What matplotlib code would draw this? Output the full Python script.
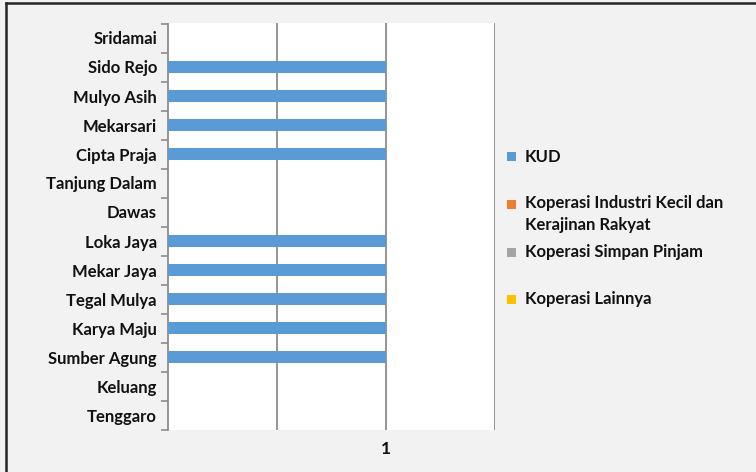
import matplotlib
matplotlib.use("Agg")
import matplotlib.pyplot as plt
from matplotlib.patches import Rectangle
from matplotlib.lines import Line2D
import numpy as np

categories = ["Sridamai", "Sido Rejo", "Mulyo Asih", "Mekarsari", "Cipta Praja",
              "Tanjung Dalam", "Dawas", "Loka Jaya", "Mekar Jaya", "Tegal Mulya",
              "Karya Maju", "Sumber Agung", "Keluang", "Tenggaro"]
series_names = ["KUD", "Koperasi Industri Kecil dan\nKerajinan Rakyat",
                "Koperasi Simpan Pinjam", "Koperasi Lainnya"]
kud = [0, 1, 1, 1, 1, 0, 0, 1, 1, 1, 1, 1, 0, 0]
kikkr = [0] * 14
ksp = [0] * 14
lainnya = [0] * 14
series_values = [kud, kikkr, ksp, lainnya]
colors = ["#5b9bd5", "#ed7d31", "#a5a5a5", "#ffc000"]
x_ticks = [0.5, 1, 1.5]
x_tick_labels = ["", "1", ""]

plt.rcParams['font.family'] = ['Lato', 'DejaVu Sans']
FS = 12
TXT = "#111111"
fig = plt.figure(figsize=(7.56, 4.72), dpi=100, facecolor="#f2f2f2")
ax = fig.add_axes([168/756, 1-429.5/472, (495-168)/756, (429.5-23.5)/472])
ax.set_facecolor("white")

n = len(categories)
y = np.arange(n)
for vals, col in zip(series_values, colors):
    v = np.array(vals, dtype=float)
    mask = v > 0
    ax.barh(y[mask], v[mask], height=0.4, color=col, zorder=3)

ax.set_ylim(n - 0.5, -0.5)
ax.set_xlim(0, 1.5)
ax.set_yticks(y)
ax.set_yticklabels(categories, fontsize=FS, fontweight="bold", color=TXT)
ax.set_yticks(np.arange(-0.5, n, 1), minor=True)
ax.tick_params(axis="y", which="major", length=0, pad=8)
ax.tick_params(axis="y", which="minor", length=5, width=1.2, color="#8c8c8c", direction="out")
ax.set_xticks(x_ticks)
ax.set_xticklabels(x_tick_labels, fontsize=FS + 0.5, fontweight="bold", color=TXT)
ax.tick_params(axis="x", length=0, pad=8)
ax.grid(axis="x", color="#8c8c8c", linewidth=1.3, zorder=1)
for s in ["top", "right", "bottom"]:
    ax.spines[s].set_visible(False)
ax.spines["left"].set_color("#8c8c8c")
ax.spines["left"].set_linewidth(1.3)

# legend drawn manually
leg_y = [157, 204, 252, 299]
for name, col, yy in zip(series_names, colors, leg_y):
    fig.patches.append(Rectangle((507/756, 1-(yy+4.5)/472), 9/756, 9/472,
                                 transform=fig.transFigure, facecolor=col,
                                 edgecolor="none"))
    if "\n" in name:
        fig.text(525/756, 1-(yy-9)/472, name, fontsize=FS, fontweight="bold",
                 color=TXT, va="top", ha="left", linespacing=1.45)
    else:
        fig.text(525/756, 1-yy/472, name, fontsize=FS, fontweight="bold",
                 color=TXT, va="center", ha="left")

# outer frame lines
fig.lines.append(Line2D([6/756, 1], [1-3/472, 1-3/472], transform=fig.transFigure,
                        color="#262626", linewidth=1.8))
fig.lines.append(Line2D([6/756, 6/756], [0, 1-3/472], transform=fig.transFigure,
                        color="#262626", linewidth=1.8))

fig.savefig("out.png", dpi=100, facecolor=fig.get_facecolor())
